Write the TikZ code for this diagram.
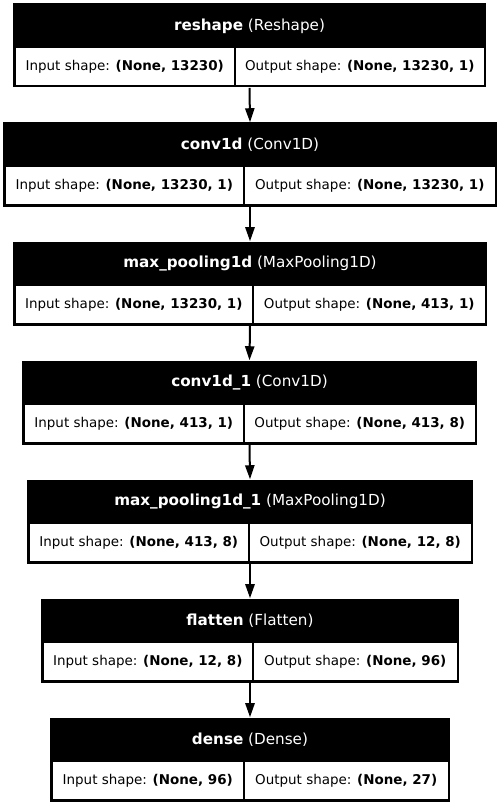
\documentclass[tikz,border=0pt]{standalone}
\usepackage{fontspec}
\setmainfont{DejaVu Sans}
\usetikzlibrary{arrows.meta}

\begin{document}
\begin{tikzpicture}[x=0.75pt, y=-0.75pt,
    pxw/.style={minimum width=#1*0.75pt},
    layerbox/.style={rectangle, fill=black, inner sep=0pt, minimum height=63pt},
    titletext/.style={text=white, inner sep=0pt, font=\fontsize{11.4}{13}\selectfont},
    cell/.style={rectangle, fill=white, inner sep=0pt, minimum height=27.75pt, font=\fontsize{10.1}{12}\selectfont},
    link/.style={-{Triangle[length=10.5pt, width=6.9pt]}, line width=1.5pt}]
    \useasboundingbox (0,0) rectangle (500,806);

    % Laag 1: reshape
    \node[layerbox, pxw=473] (reshape) at (249.5,45.5) {};
    \node[titletext] (reshape-title) at (249.5,26) {\textbf{reshape} (Reshape)};
    \node[cell, pxw=218.5] (reshape-in) at (124.75,66.5) {Input shape: \textbf{(None, 13230)}};
    \node[cell, pxw=247.5] (reshape-out) at (359.75,66.5) {Output shape: \textbf{(None, 13230, 1)}};

    % Laag 2: conv1d
    \node[layerbox, pxw=494] (conv1d) at (250,164.5) {};
    \node[titletext] (conv1d-title) at (250,145) {\textbf{conv1d} (Conv1D)};
    \node[cell, pxw=237.5] (conv1d-in) at (124.25,185.5) {Input shape: \textbf{(None, 13230, 1)}};
    \node[cell, pxw=249.5] (conv1d-out) at (369.75,185.5) {Output shape: \textbf{(None, 13230, 1)}};

    % Laag 3: max_pooling1d
    \node[layerbox, pxw=474] (pool) at (250,283.5) {};
    \node[titletext] (pool-title) at (250,264) {\textbf{max\_pooling1d} (MaxPooling1D)};
    \node[cell, pxw=236.5] (pool-in) at (133.75,304.5) {Input shape: \textbf{(None, 13230, 1)}};
    \node[cell, pxw=230.5] (pool-out) at (369.25,304.5) {Output shape: \textbf{(None, 413, 1)}};

    % Laag 4: conv1d_1
    \node[layerbox, pxw=455] (conv1d1) at (249.5,402.5) {};
    \node[titletext] (conv1d1-title) at (249.5,383) {\textbf{conv1d\_1} (Conv1D)};
    \node[cell, pxw=218.5] (conv1d1-in) at (133.75,423.5) {Input shape: \textbf{(None, 413, 1)}};
    \node[cell, pxw=229.5] (conv1d1-out) at (359.75,423.5) {Output shape: \textbf{(None, 413, 8)}};

    % Laag 5: max_pooling1d_1
    \node[layerbox, pxw=446] (pool1) at (250,521.5) {};
    \node[titletext] (pool1-title) at (250,502) {\textbf{max\_pooling1d\_1} (MaxPooling1D)};
    \node[cell, pxw=218.5] (pool1-in) at (138.75,542.5) {Input shape: \textbf{(None, 413, 8)}};
    \node[cell, pxw=220.5] (pool1-out) at (360.25,542.5) {Output shape: \textbf{(None, 12, 8)}};

    % Laag 6: flatten
    \node[layerbox, pxw=418] (flatten) at (250,640.5) {};
    \node[titletext] (flatten-title) at (250,621) {\textbf{flatten} (Flatten)};
    \node[cell, pxw=208.5] (flatten-in) at (147.75,661.5) {Input shape: \textbf{(None, 12, 8)}};
    \node[cell, pxw=202.5] (flatten-out) at (355.25,661.5) {Output shape: \textbf{(None, 96)}};

    % Laag 7: dense
    \node[layerbox, pxw=400] (dense) at (250,759.5) {};
    \node[titletext] (dense-title) at (250,740) {\textbf{dense} (Dense)};
    \node[cell, pxw=190.5] (dense-in) at (147.75,780.5) {Input shape: \textbf{(None, 96)}};
    \node[cell, pxw=202.5] (dense-out) at (346.25,780.5) {Output shape: \textbf{(None, 27)}};

    % Pijlen tussen de lagen
    \draw[link] (reshape.south) -- (conv1d.north);
    \draw[link] (conv1d.south) -- (pool.north);
    \draw[link] (pool.south) -- (conv1d1.north);
    \draw[link] (conv1d1.south) -- (pool1.north);
    \draw[link] (pool1.south) -- (flatten.north);
    \draw[link] (flatten.south) -- (dense.north);

\end{tikzpicture}
\end{document}
